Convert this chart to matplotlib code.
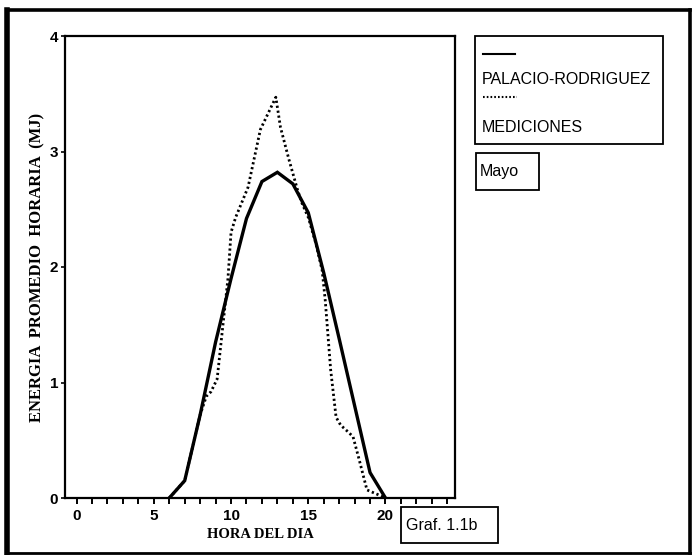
import matplotlib
matplotlib.use("Agg")
import matplotlib.pyplot as plt
from matplotlib.lines import Line2D
from matplotlib.patches import Rectangle

# ---- data ----
hours_model = [6, 7, 8, 9, 10, 11, 12, 13, 14, 15, 16, 17, 18, 19, 20]
palacio_rodriguez = [0.0, 0.15, 0.72, 1.35, 1.9, 2.42, 2.74, 2.82, 2.72, 2.47, 1.95, 1.38, 0.8, 0.22, 0.0]

hours_meas = [6.0, 7.0, 8.0, 8.4, 8.7, 9.1, 9.8, 10.0, 10.3, 11.1, 11.9, 12.9,
              13.2, 13.75, 14.3, 14.6, 15.0, 15.5, 15.9, 16.1, 16.45, 16.8,
              17.1, 17.6, 17.9, 18.3, 18.8, 19.5, 20.0]
mediciones = [0.0, 0.15, 0.72, 0.88, 0.92, 1.03, 1.9, 2.3, 2.43, 2.69, 3.19, 3.47,
              3.21, 2.93, 2.67, 2.55, 2.43, 2.2, 1.97, 1.71, 1.11, 0.7,
              0.63, 0.57, 0.53, 0.33, 0.07, 0.03, 0.0]

x_major = [0, 5, 10, 15, 20]
x_minor = list(range(0, 25))
y_major = [0, 1, 2, 3, 4]

legend_labels = ["PALACIO-RODRIGUEZ", "MEDICIONES"]
month_label = "Mayo"
graph_label = "Graf. 1.1b"
xlabel = "HORA DEL DIA"
ylabel = "ENERGIA  PROMEDIO  HORARIA  (MJ)"

W, H = 695, 555
fig = plt.figure(figsize=(W / 100, H / 100), dpi=100)
fig.patch.set_facecolor("white")

def fx(px):
    return px / W

def fy(py):
    return 1 - py / H

ax = fig.add_axes([fx(65), fy(498), fx(455) - fx(65), fy(36) - fy(498)])
ax.plot(hours_model, palacio_rodriguez, color="black", lw=2.4, solid_joinstyle="miter")
ax.plot(hours_meas, mediciones, color="black", lw=2.0, linestyle=(0, (0.8, 1.0)))

ax.set_xlim(-0.75, 24.5)
ax.set_ylim(0, 4)
ax.set_xticks(x_major)
ax.set_xticks(x_minor, minor=True)
ax.set_yticks(y_major)
for s in ax.spines.values():
    s.set_linewidth(1.6)
ax.tick_params(axis="x", which="both", direction="out", length=4, width=1.4, pad=4)
ax.tick_params(axis="y", which="both", direction="out", length=3, width=1.2, pad=2)
tick_font = dict(family="Liberation Sans", weight="bold", size=11)
ax.set_xticklabels([str(v) for v in x_major], **tick_font)
ax.set_yticklabels([str(v) for v in y_major], **tick_font)

fig.text(fx(260), fy(535), xlabel, family="Liberation Serif", weight="bold",
         size=10.5, ha="center", va="center")
fig.text(fx(37), fy(267), ylabel, family="Liberation Serif", weight="bold",
         size=12, ha="center", va="center", rotation=90)

# outer frame
fig.add_artist(Line2D([fx(7), fx(7)], [fy(10), fy(553)], color="black", lw=4))
fig.add_artist(Line2D([fx(7), fx(690)], [fy(10), fy(10)], color="black", lw=2.6))
fig.add_artist(Line2D([fx(690), fx(690)], [fy(10), fy(553)], color="black", lw=2.6))
fig.add_artist(Line2D([fx(7), fx(690)], [fy(553), fy(553)], color="black", lw=2.0))

# legend box
def box(x0, y0, x1, y1, lw=1.3):
    fig.add_artist(Rectangle((fx(x0), fy(y1)), fx(x1) - fx(x0), fy(y0) - fy(y1),
                             fill=False, edgecolor="black", lw=lw))

box(475, 36, 663, 144)
fig.add_artist(Line2D([fx(483), fx(515)], [fy(54), fy(54)], color="black", lw=1.5))
fig.add_artist(Line2D([fx(483), fx(517)], [fy(97), fy(97)], color="black", lw=1.5,
                      linestyle=(0, (0.8, 1.0))))
lab_font = dict(family="Liberation Sans", size=11.5)
fig.text(fx(482), fy(79), legend_labels[0], ha="left", va="center", **lab_font)
fig.text(fx(482), fy(127), legend_labels[1], ha="left", va="center", **lab_font)

box(476, 153, 539, 190)
fig.text(fx(480), fy(171.5), month_label, ha="left", va="center", **lab_font)

box(401, 507, 498, 543)
fig.text(fx(406), fy(525.5), graph_label, ha="left", va="center", **lab_font)

fig.savefig("out.png", dpi=100, facecolor="white")
